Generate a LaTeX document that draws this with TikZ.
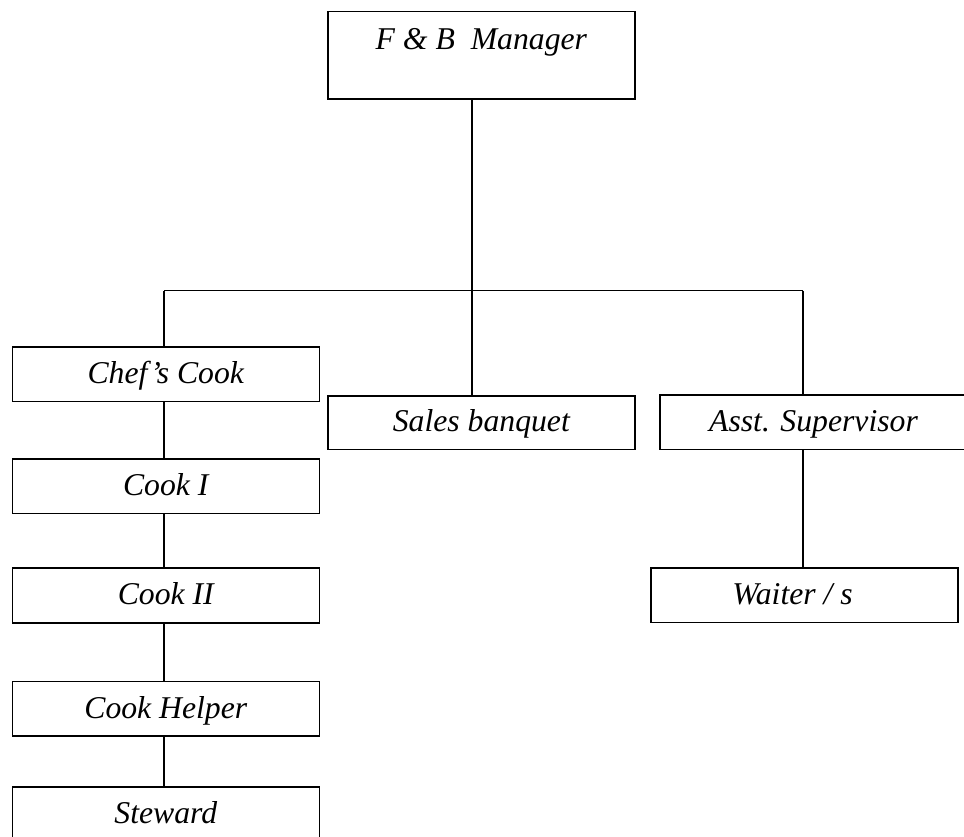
\documentclass[tikz,border=0pt]{standalone}
\usepackage{fontspec}
\setmainfont{Liberation Serif}
\begin{document}
\begin{tikzpicture}[x=1pt,y=-1pt,
  every node/.style={font=\fontsize{31.7}{38}\selectfont\itshape},
  orgbox/.style={draw, line width=1.6pt, rectangle, inner sep=0pt,
    minimum width=307pt, minimum height=54.5pt, text height=22pt, text depth=3.5pt},
  conn/.style={line width=1.6pt}]
\useasboundingbox (0,0) rectangle (964,837);
\fill[white] (0,0) rectangle (964,837);
\node[orgbox, minimum height=87.6pt, text height=22pt, text depth=33pt] (mgr) at (481.35,55.5) {F \& B\ \ Manager};
\node[orgbox] (chef)    at (165.8,374.2) {Chef’s Cook};
\node[orgbox] (cook1)   at (165.8,486.2) {Cook I};
\node[orgbox] (cook2)   at (165.8,595.5) {Cook II};
\node[orgbox] (helper)  at (165.8,708.9) {Cook Helper};
\node[orgbox] (steward) at (165.8,814.0) {Steward};
\node[orgbox, minimum height=53.6pt] (sales) at (481.35,422.5) {Sales banquet};
\node[orgbox, minimum height=54.6pt] (asst)  at (813.5,422.0) {Asst. Supervisor};
\node[orgbox, minimum height=54.6pt] (waiter) at (804.2,595.0) {Waiter / s\hspace*{23.4pt}};
\coordinate (busL) at (164,290.5);
\coordinate (busR) at (803,290.5);
\coordinate (busM) at (472,290.5);
\draw[conn] (busM |- mgr.south) -- (busM);
\draw[conn] (busL) -- (busR);
\draw[conn] (busL) -- (busL |- chef.north);
\draw[conn] (busM) -- (busM |- sales.north);
\draw[conn] (busR) -- (busR |- asst.north);
\draw[conn] (busR |- asst.south) -- (busR |- waiter.north);
\draw[conn] (busL |- chef.south) -- (busL |- cook1.north);
\draw[conn] (busL |- cook1.south) -- (busL |- cook2.north);
\draw[conn] (busL |- cook2.south) -- (busL |- helper.north);
\draw[conn] (busL |- helper.south) -- (busL |- steward.north);
\end{tikzpicture}
\end{document}
